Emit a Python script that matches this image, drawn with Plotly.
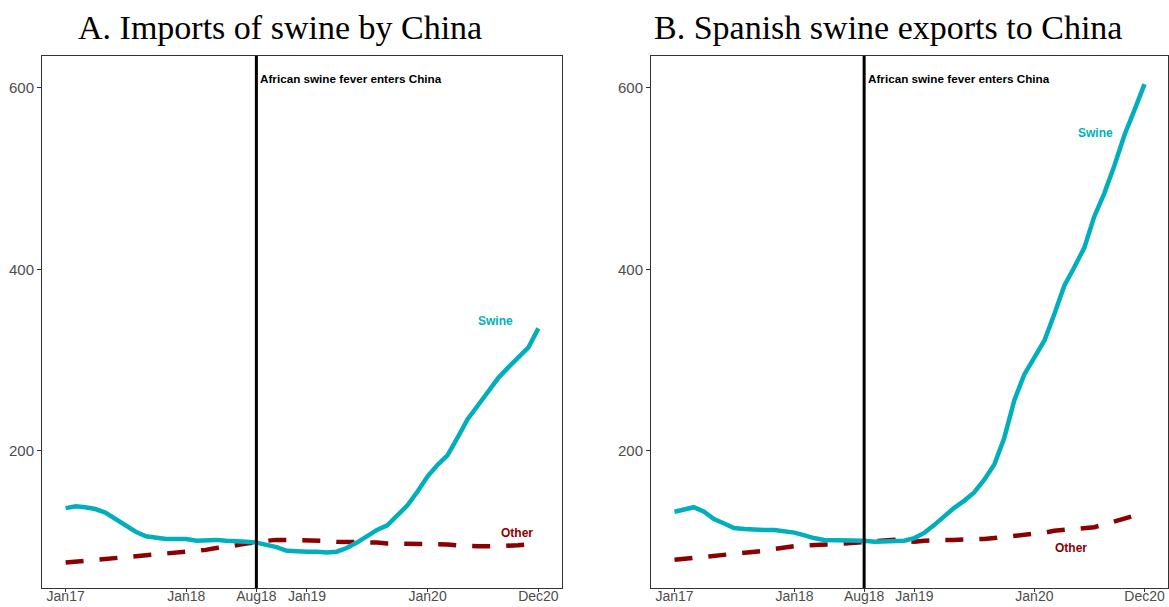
import pandas as pd
import plotly.graph_objects as go

months = pd.date_range("2017-01-01", periods=48, freq="MS")

china_swine = [137, 139, 138, 136, 132, 125, 118, 111, 106, 104, 103, 103,
               103, 101, 102, 102, 101, 101, 100, 99, 97, 94, 90, 89,
               89, 89, 88, 89, 93, 99, 106, 113, 118, 128, 140, 155,
               172, 185, 195, 215, 235, 250, 265, 280, 292, 302, 314, 335]
china_other = [77, 78, 79, 80, 81, 82, 83, 84, 85, 86, 87, 88,
               89, 90, 91, 93, 94, 96, 98, 100, 101, 102, 102, 102,
               102, 102, 101, 100, 100, 99, 99, 99, 98, 98, 98, 98,
               98, 98, 97, 96, 95, 95, 95, 95, 95, 96, 97, 98]
spain_swine = [133, 136, 138, 133, 125, 120, 115, 114, 113, 113, 113, 112,
               110, 107, 104, 102, 102, 101, 101, 101, 100, 100, 100, 101,
               104, 110, 118, 128, 137, 145, 154, 168, 185, 214, 256, 284,
               302, 322, 350, 382, 402, 424, 458, 484, 515, 548, 576, 604]
spain_other = [80, 81, 83, 84, 85, 86, 86, 87, 88, 90, 92, 94,
               95, 96, 96, 97, 97, 98, 99, 100, 101, 102, 102, 101,
               100, 101, 102, 102, 102, 102, 103, 103, 104, 105, 107, 108,
               109, 110, 112, 113, 113, 114, 116, 119, 122, 125, 128, 132]

tick_vals = ["2017-01-01", "2018-01-01", "2018-08-01", "2019-01-01", "2020-01-01", "2020-12-01"]
tick_text = ["Jan17", "Jan18", "Aug18", "Jan19", "Jan20", "Dec20"]
y_ticks = [200, 400, 600]
event_date = "2018-08-01"
event_text = "African swine fever enters China"
titles = ["A. Imports of swine by China", "B. Spanish swine exports to China"]

TEAL = "#00AFBB"
DRED = "#8B0000"

start, end = months[0], months[-1]
span = end - start
xr = [start - 0.05 * span, end + 0.05 * span]

fig = go.Figure()

panels = [("x", "y", china_swine, china_other), ("x2", "y2", spain_swine, spain_other)]
for xa, ya, sw, ot in panels:
    fig.add_trace(go.Scatter(x=months, y=ot, xaxis=xa, yaxis=ya, mode="lines",
                             line=dict(color=DRED, width=4.5, dash="18px,16px"),
                             showlegend=False, hoverinfo="skip"))
    fig.add_trace(go.Scatter(x=months, y=sw, xaxis=xa, yaxis=ya, mode="lines",
                             line=dict(color=TEAL, width=4.5),
                             showlegend=False, hoverinfo="skip"))
    fig.add_shape(type="line", xref=xa, yref=ya + " domain", x0=event_date, x1=event_date,
                  y0=0, y1=1, line=dict(color="black", width=3))
    fig.add_annotation(x=event_date, y=610, xref=xa, yref=ya, text="<b>" + event_text + "</b>",
                       showarrow=False, xanchor="left", yanchor="middle", xshift=2,
                       font=dict(family="Liberation Sans", size=11.7, color="black"))

# series labels
lab_font = dict(family="Liberation Sans", size=12)
fig.add_annotation(x="2020-07-25", y=343, xref="x", yref="y", text="<b>Swine</b>", showarrow=False,
                   font=dict(color=TEAL, **lab_font))
fig.add_annotation(x="2020-09-28", y=110, xref="x", yref="y", text="<b>Other</b>", showarrow=False,
                   font=dict(color=DRED, **lab_font))
fig.add_annotation(x="2020-07-05", y=550, xref="x2", yref="y2", text="<b>Swine</b>", showarrow=False,
                   font=dict(color=TEAL, **lab_font))
fig.add_annotation(x="2020-04-20", y=93, xref="x2", yref="y2", text="<b>Other</b>", showarrow=False,
                   font=dict(color=DRED, **lab_font))

# titles
fig.add_annotation(x=280 / 1169, y=1 - 28 / 607, xref="paper", yref="paper", text=titles[0],
                   showarrow=False, xanchor="center", yanchor="middle",
                   font=dict(family="Liberation Serif", size=34, color="black"))
fig.add_annotation(x=888 / 1169, y=1 - 28 / 607, xref="paper", yref="paper", text=titles[1],
                   showarrow=False, xanchor="center", yanchor="middle",
                   font=dict(family="Liberation Serif", size=34, color="black"))

axis_common = dict(showgrid=False, zeroline=False, showline=True, mirror=True,
                   linecolor="#333333", linewidth=1, ticks="outside",
                   tickcolor="#333333", tickwidth=1, automargin=False)
yfont = dict(family="Liberation Sans", size=15, color="#4D4D4D")
xfont = dict(family="Liberation Sans", size=14, color="#4D4D4D")

ydom = [1 - 588 / 607, 1 - 56 / 607]
fig.update_layout(
    width=1169, height=607, margin=dict(l=0, r=0, t=0, b=0),
    plot_bgcolor="white", paper_bgcolor="white",
    xaxis=dict(domain=[42 / 1169, 562 / 1169], range=xr, tickvals=tick_vals, ticktext=tick_text,
               anchor="y", tickfont=xfont, ticklen=3, ticklabelstandoff=-8, **axis_common),
    yaxis=dict(domain=ydom, range=[49, 635], tickvals=y_ticks, anchor="x", tickfont=yfont,
               ticklen=4, **axis_common),
    xaxis2=dict(domain=[651 / 1169, 1168 / 1169], range=xr, tickvals=tick_vals, ticktext=tick_text,
                anchor="y2", tickfont=xfont, ticklen=3, ticklabelstandoff=-8, **axis_common),
    yaxis2=dict(domain=ydom, range=[49, 635], tickvals=y_ticks, anchor="x2", tickfont=yfont,
                ticklen=4, **axis_common),
)

fig.write_html("out.html", config={"displayModeBar": False},
               post_script="document.body.style.margin='0';document.body.style.padding='0';"
                           "document.body.style.overflow='hidden';")
